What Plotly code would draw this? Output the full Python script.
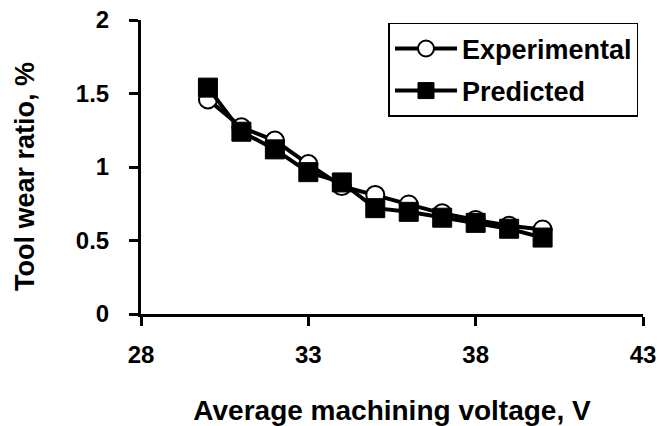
import plotly.graph_objects as go

voltage = [30, 31, 32, 33, 34, 35, 36, 37, 38, 39, 40]
experimental = [1.46, 1.27, 1.18, 1.02, 0.87, 0.81, 0.745, 0.685, 0.64, 0.60, 0.575]
predicted = [1.54, 1.24, 1.12, 0.965, 0.895, 0.72, 0.695, 0.655, 0.62, 0.58, 0.52]

x_ticks = [28, 33, 38, 43]
y_ticks = [0, 0.5, 1, 1.5, 2]

FONT = "Liberation Sans, Arial, sans-serif"

fig = go.Figure()
fig.add_trace(go.Scatter(
    x=voltage, y=experimental, name="Experimental", mode="lines+markers",
    legendgroup="exp",
    line=dict(color="black", width=4),
    marker=dict(symbol="circle", size=18, color="white", line=dict(color="black", width=2)),
))
fig.add_trace(go.Scatter(
    x=voltage, y=predicted, name="Predicted", mode="lines+markers",
    legendgroup="pred",
    line=dict(color="black", width=4),
    marker=dict(symbol="square", size=19, color="black", line=dict(color="black", width=1)),
))

fig.update_layout(
    width=659, height=426,
    margin=dict(l=141, r=16, t=20, b=112),
    paper_bgcolor="white", plot_bgcolor="white",
    font=dict(family=FONT, size=24, color="black", weight="bold"),
    showlegend=True,
    legend=dict(
        x=0.493, y=0.99, xanchor="left", yanchor="top",
        bgcolor="white", bordercolor="black", borderwidth=1.5,
        font=dict(family=FONT, size=27, color="black", weight="bold"),
        itemsizing="trace", tracegroupgap=4, itemwidth=62,
    ),
    annotations=[dict(
        text="Tool wear ratio, %", xref="paper", yref="paper",
        x=-0.231, y=0.466, xanchor="center", yanchor="middle",
        textangle=-90, showarrow=False,
        font=dict(family=FONT, size=27, color="black", weight="bold"),
    )],
)
fig.update_xaxes(
    range=[28, 43], tickvals=x_ticks, ticktext=[str(v) for v in x_ticks],
    automargin=False,
    showgrid=False, zeroline=False,
    showline=True, linecolor="black", linewidth=3,
    ticks="outside", ticklen=9, tickwidth=3, tickcolor="black",
    ticklabelstandoff=8,
    tickfont=dict(family=FONT, size=24, color="black", weight="bold"),
    title=dict(text="Average machining voltage, V", standoff=35,
               font=dict(family=FONT, size=28, color="black", weight="bold")),
)
fig.update_yaxes(
    range=[0, 2], tickvals=y_ticks, ticktext=["0", "0.5", "1", "1.5", "2"],
    automargin=False,
    showgrid=False, zeroline=False,
    showline=True, linecolor="black", linewidth=3,
    ticks="outside", ticklen=9, tickwidth=3, tickcolor="black",
    ticklabelstandoff=15,
    tickfont=dict(family=FONT, size=24, color="black", weight="bold"),
)

fig.write_html("out.html", config={"displayModeBar": False},
               post_script="document.body.style.margin='0';")
